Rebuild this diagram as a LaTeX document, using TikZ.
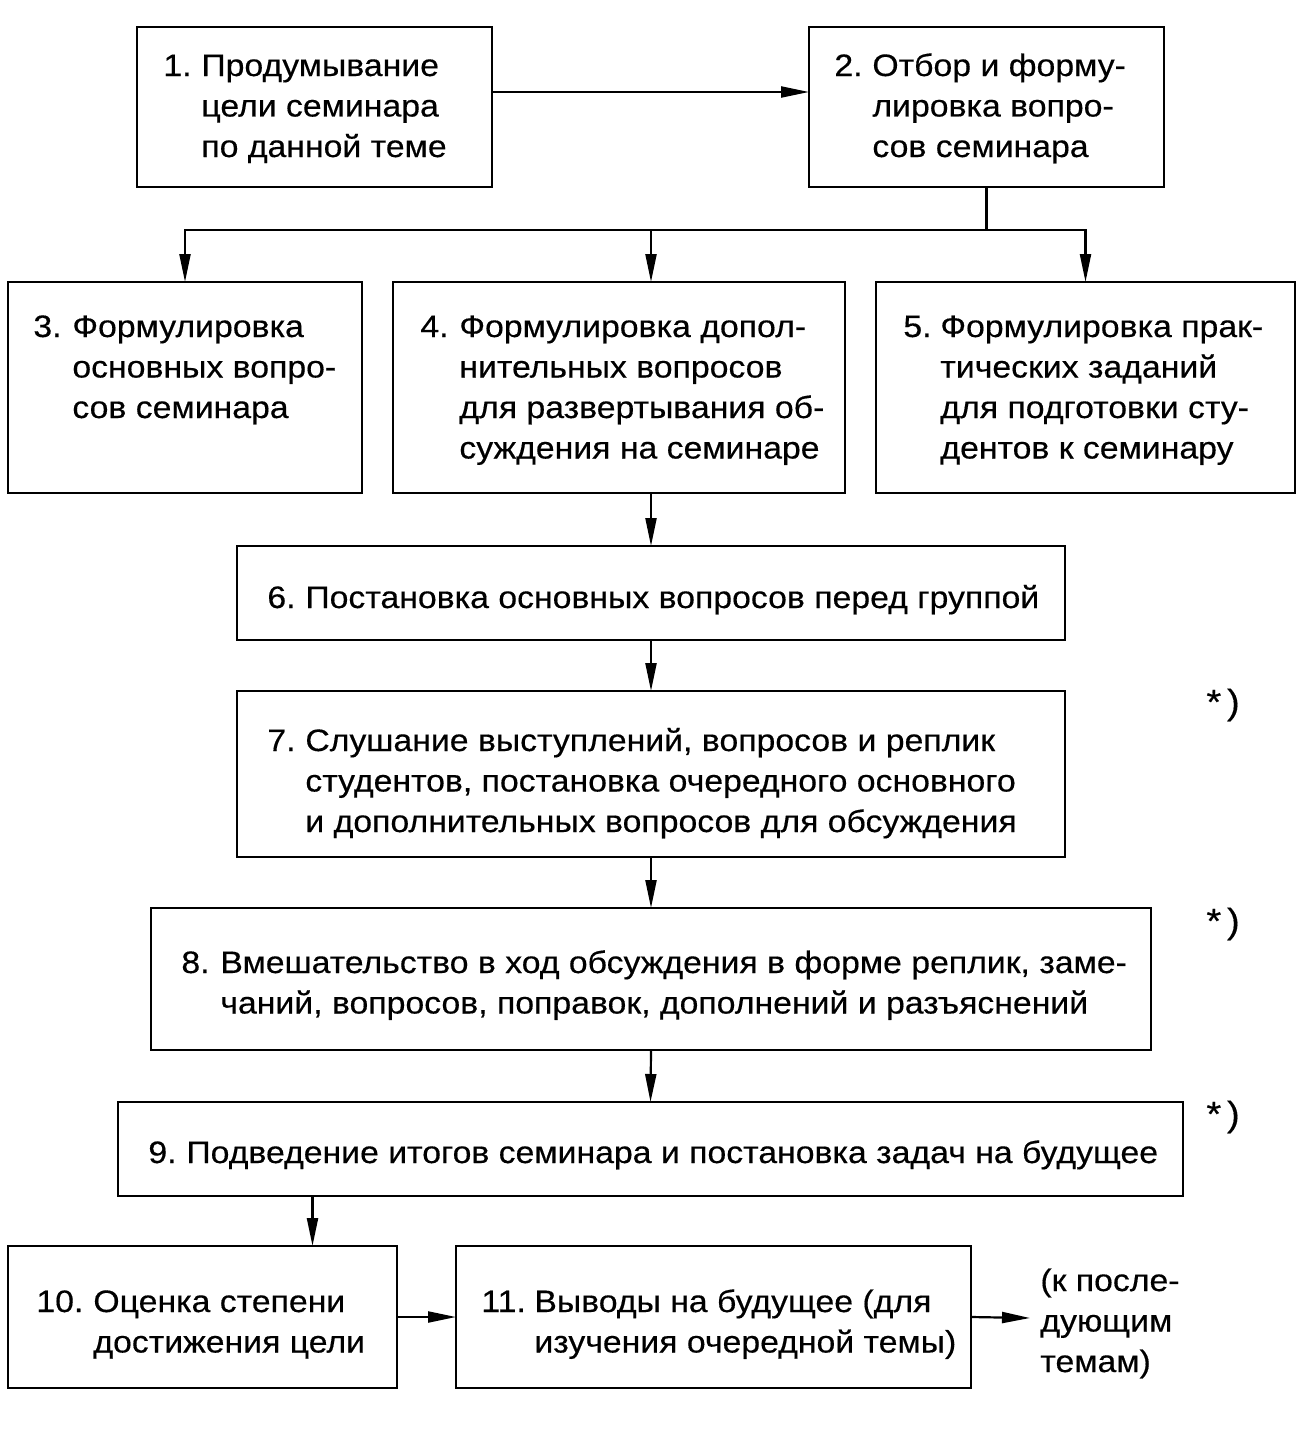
\documentclass[tikz,border=0pt]{standalone}
\usepackage{fontspec}
\setmainfont{Liberation Sans}[FakeStretch=1.09,FakeBold=0.4]
\usetikzlibrary{arrows.meta,calc}
\newcommand\mybox[5]{\node[box, minimum width={(#4-#2)*0.5pt}, minimum height={(#5-#3)*0.5pt}] (#1) at ({(#2+#4)/2},{(#3+#5)/2}) {};}
\newcommand\nm[2]{\makebox[#1][l]{#2}}
\begin{document}
\begin{tikzpicture}[x=0.5pt,y=-0.5pt,
  box/.style={draw, line width=1.3pt, inner sep=0pt, outer sep=0pt},
  txt/.style={anchor=base west, inner sep=0pt, font=\fontsize{15.5}{20.25}\selectfont},
  star/.style={anchor=base west, inner sep=0pt, font=\fontsize{17.5}{20}\selectfont},
  arr/.style={line width=1.1pt, -{Triangle[length=14pt,width=5.5pt]}},
  ln/.style={line width=1.1pt}]
\useasboundingbox (0,0) rectangle (1312,1429);
% boxes
\mybox{b1}{137}{27}{492}{187}
\mybox{b2}{809}{27}{1164}{187}
\mybox{b3}{8}{282}{362}{493}
\mybox{b4}{393}{282}{845}{493}
\mybox{b5}{876}{282}{1295}{493}
\mybox{b6}{237}{546}{1065}{640}
\mybox{b7}{237}{691}{1065}{857}
\mybox{b8}{151}{908}{1151}{1050}
\mybox{b9}{118}{1102}{1183}{1196}
\mybox{b10}{8}{1246}{397}{1388}
\mybox{b11}{456}{1246}{971}{1388}
% texts
\node[txt] (t1) at (163,76) {\begin{tabular}[t]{@{}l@{}l@{}}\nm{19pt}{1.}&Продумывание\\&цели семинара\\&по данной теме\end{tabular}};
\node[txt] (t2) at (834,76) {\begin{tabular}[t]{@{}l@{}l@{}}\nm{19pt}{2.}&Отбор и форму-\\&лировка вопро-\\&сов семинара\end{tabular}};
\node[txt] (t3) at (33,337) {\begin{tabular}[t]{@{}l@{}l@{}}\nm{19.5pt}{3.}&Формулировка\\&основных вопро-\\&сов семинара\end{tabular}};
\node[txt] (t4) at (420,337) {\begin{tabular}[t]{@{}l@{}l@{}}\nm{19.5pt}{4.}&Формулировка допол-\\&нительных вопросов\\&для развертывания об-\\&суждения на семинаре\end{tabular}};
\node[txt] (t5) at (903,337) {\begin{tabular}[t]{@{}l@{}l@{}}\nm{18.5pt}{5.}&Формулировка прак-\\&тических заданий\\&для подготовки сту-\\&дентов к семинару\end{tabular}};
\node[txt] (t6) at (267,608) {\nm{19pt}{6.}Постановка основных вопросов перед группой};
\node[txt] (t7) at (267,751) {\begin{tabular}[t]{@{}l@{}l@{}}\nm{19pt}{7.}&Слушание выступлений, вопросов и реплик\\&студентов, постановка очередного основного\\&и дополнительных вопросов для обсуждения\end{tabular}};
\node[txt] (t8) at (181,973) {\begin{tabular}[t]{@{}l@{}l@{}}\nm{19.5pt}{8.}&Вмешательство в ход обсуждения в форме реплик, заме-\\&чаний, вопросов, поправок, дополнений и разъяснений\end{tabular}};
\node[txt] (t9) at (148,1163) {\nm{19pt}{9.}Подведение итогов семинара и постановка задач на будущее};
\node[txt] (t10) at (36,1312) {\begin{tabular}[t]{@{}l@{}l@{}}\nm{28.5pt}{10.}&Оценка степени\\&достижения цели\end{tabular}};
\node[txt] (t11) at (481,1312) {\begin{tabular}[t]{@{}l@{}l@{}}\nm{26.5pt}{11.}&Выводы на будущее (для\\&изучения очередной темы)\end{tabular}};
\node[txt] (cont) at (1040,1291) {\begin{tabular}[t]{@{}l@{}}(к после-\\дующим\\темам)\end{tabular}};
\node[star] (s7) at (1206,714) {*\,)};
\node[star] (s8) at (1206,933) {*\,)};
\node[star] (s9) at (1206,1126) {*\,)};
% connectors
\draw[arr] ($(b1.east)+(0,-15)$) -- ($(b2.west)+(0,-15)$);
\coordinate (j) at ($(b2.south)+(0,43)$);
\coordinate (a4) at ($(b4.north)+(32,0)$);
\draw[ln] (b2.south) -- (j);
\draw[arr] (j) -| (b3.north);
\draw[arr] (j) -| (b5.north);
\draw[arr] (j -| a4) -- (a4);
\draw[arr] (b6.north |- b4.south) -- (b6.north);
\draw[arr] (b6.south) -- (b7.north);
\draw[arr] (b7.south) -- (b8.north);
\draw[arr] (b8.south) -- (b9.north);
\coordinate (a10) at ($(b10.north)+(110,0)$);
\draw[arr] (b9.south -| a10) -- (a10);
\draw[arr] (b10.east) -- (b11.west);
\coordinate (ce) at (1030,1318);
\draw[arr] (b11.east) -- (ce);
\end{tikzpicture}
\end{document}
